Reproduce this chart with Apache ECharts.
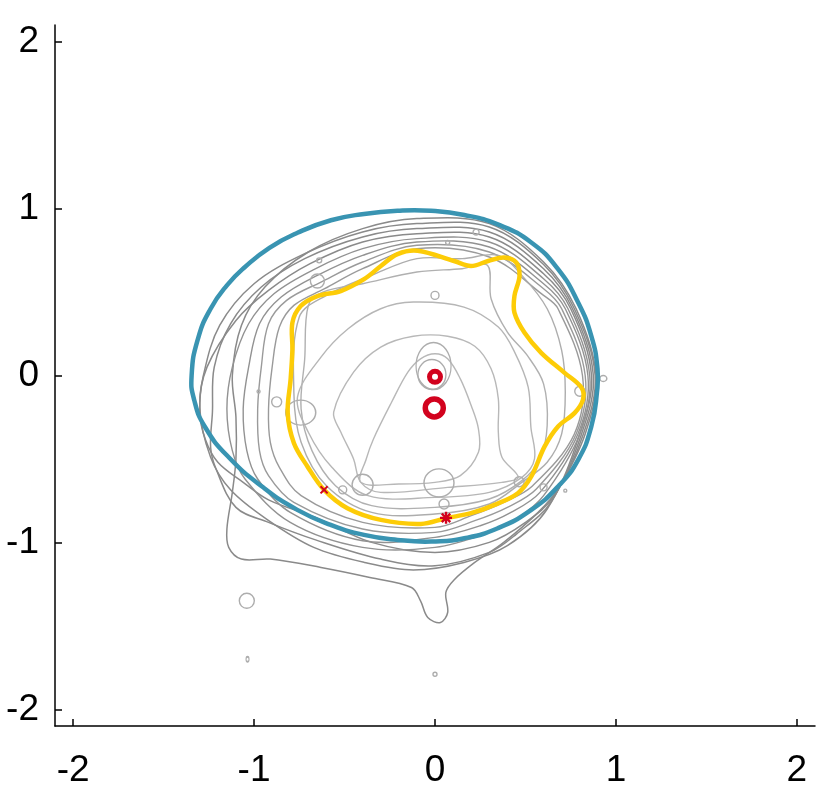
<!DOCTYPE html>
<html>
<head>
<meta charset="utf-8">
<script src="https://cdn.jsdelivr.net/npm/echarts@6/dist/echarts.min.js"></script>
<style>html,body{margin:0;padding:0;background:#fff}#chart{width:830px;height:792px}</style>
</head>
<body>
<div id="chart"></div>
<script>
// ---- tick labels ----
var xTicks = [-2, -1, 0, 1, 2];
var yTicks = [-2, -1, 0, 1, 2];

// ---- highlighted contours (closed curves) ----
var blueContour = [[-1.345,0.0],[-1.31,0.22],[-1.24,0.40],[-1.15,0.54],[-1.05,0.65],[-0.915,0.765],[-0.76,0.855],[-0.575,0.93],[-0.392,0.968],[-0.207,0.987],[-0.022,0.987],[0.162,0.962],[0.347,0.905],[0.532,0.797],[0.680,0.637],[0.791,0.437],[0.864,0.236],[0.898,0.04],[0.895,-0.10],[0.864,-0.305],[0.791,-0.505],[0.680,-0.665],[0.532,-0.805],[0.347,-0.915],[0.162,-0.975],[-0.022,-0.995],[-0.207,-0.985],[-0.392,-0.955],[-0.576,-0.895],[-0.761,-0.805],[-0.95,-0.67],[-1.14,-0.49],[-1.27,-0.31],[-1.33,-0.15]];

var yellowContour = [[-0.096,0.747],[0.105,0.686],[0.199,0.656],[0.294,0.686],[0.382,0.707],[0.449,0.677],[0.467,0.596],[0.439,0.476],[0.439,0.377],[0.495,0.256],[0.587,0.136],[0.716,0.016],[0.809,-0.072],[0.818,-0.144],[0.772,-0.224],[0.680,-0.305],[0.606,-0.425],[0.532,-0.605],[0.458,-0.705],[0.329,-0.775],[0.199,-0.825],[0.061,-0.855],[-0.078,-0.889],[-0.299,-0.865],[-0.484,-0.795],[-0.613,-0.685],[-0.705,-0.545],[-0.780,-0.404],[-0.814,-0.224],[-0.798,-0.024],[-0.788,0.156],[-0.788,0.317],[-0.742,0.416],[-0.650,0.476],[-0.521,0.506],[-0.392,0.577],[-0.299,0.656],[-0.207,0.727]];

// ---- grey contours (outer, darker) ----
var grey1 = [[-0.10,0.94],[0.30,0.91],[0.60,0.68],[0.78,0.40],[0.89,0.00],[0.83,-0.35],[0.68,-0.68],[0.57,-0.82],[0.38,-1.00],[0.216,-1.123],[0.105,-1.225],[0.06,-1.30],[0.07,-1.42],[0.03,-1.48],[-0.04,-1.45],[-0.08,-1.35],[-0.13,-1.27],[-0.36,-1.21],[-0.63,-1.15],[-0.91,-1.10],[-1.07,-1.10],[-1.14,-1.03],[-1.15,-0.92],[-1.12,-0.70],[-1.10,-0.50],[-1.10,-0.25],[-1.12,0.00],[-1.07,0.30],[-0.94,0.53],[-0.70,0.74],[-0.40,0.88]];
var grey2 = [[-0.10,0.91],[0.30,0.89],[0.60,0.665],[0.77,0.40],[0.885,0.00],[0.82,-0.35],[0.66,-0.72],[0.50,-0.88],[0.30,-1.00],[0.00,-1.06],[-0.35,-1.00],[-0.66,-0.85],[-0.92,-0.745],[-1.06,-0.64],[-1.20,-0.52],[-1.27,-0.38],[-1.30,-0.22],[-1.28,0.00],[-1.19,0.30],[-1.00,0.55],[-0.72,0.73],[-0.40,0.86]];
var grey3 = [[-0.10,0.88],[0.30,0.86],[0.60,0.64],[0.76,0.40],[0.875,0.00],[0.81,-0.35],[0.64,-0.76],[0.45,-0.95],[0.30,-1.06],[0.00,-1.14],[-0.30,-1.10],[-0.66,-0.985],[-0.92,-0.88],[-1.10,-0.79],[-1.21,-0.56],[-1.24,-0.43],[-1.23,-0.22],[-1.22,0.05],[-1.13,0.31],[-0.96,0.53],[-0.72,0.70],[-0.40,0.83]];
var grey4 = [[-0.10,0.85],[0.30,0.83],[0.60,0.61],[0.75,0.40],[0.865,0.00],[0.80,-0.35],[0.62,-0.80],[0.40,-1.02],[0.16,-1.12],[-0.12,-1.165],[-0.39,-1.12],[-0.67,-1.03],[-0.925,-0.865],[-1.13,-0.685],[-1.24,-0.49],[-1.30,-0.19],[-1.26,0.05],[-1.10,0.33],[-0.92,0.51],[-0.69,0.67],[-0.40,0.80]];
var grey5 = [[-0.10,0.82],[0.30,0.80],[0.60,0.58],[0.735,0.40],[0.855,0.00],[0.80,-0.35],[0.60,-0.72],[0.45,-0.86],[0.30,-0.94],[0.00,-1.03],[-0.40,-1.03],[-0.80,-0.88],[-1.05,-0.62],[-1.12,-0.45],[-1.15,-0.20],[-1.12,0.05],[-1.03,0.31],[-0.89,0.49],[-0.67,0.635],[-0.40,0.76]];
var grey6 = [[-0.10,0.80],[0.30,0.77],[0.60,0.55],[0.72,0.40],[0.845,0.00],[0.79,-0.35],[0.58,-0.70],[0.42,-0.82],[0.25,-0.90],[0.00,-0.97],[-0.40,-0.99],[-0.80,-0.82],[-0.98,-0.62],[-1.04,-0.45],[-1.06,-0.20],[-1.03,0.05],[-0.97,0.31],[-0.85,0.47],[-0.65,0.60],[-0.40,0.72]];
var grey7 = [[-0.10,0.78],[0.30,0.74],[0.60,0.52],[0.70,0.40],[0.83,0.00],[0.78,-0.35],[0.56,-0.68],[0.40,-0.79],[0.22,-0.87],[0.00,-0.94],[-0.40,-0.92],[-0.78,-0.76],[-0.92,-0.60],[-0.97,-0.45],[-0.98,-0.20],[-0.96,0.05],[-0.92,0.31],[-0.82,0.45],[-0.63,0.56],[-0.40,0.68]];
var grey8 = [[-0.10,0.76],[0.30,0.71],[0.60,0.48],[0.68,0.40],[0.815,0.00],[0.77,-0.35],[0.54,-0.66],[0.38,-0.76],[0.20,-0.84],[0.00,-0.91],[-0.40,-0.88],[-0.74,-0.72],[-0.86,-0.55],[-0.91,-0.40],[-0.92,-0.20],[-0.90,0.05],[-0.86,0.29],[-0.78,0.42],[-0.61,0.52],[-0.40,0.64]];

// ---- grey contours (inner, lighter) ----
var light1 = [[-0.75,0.35],[-0.60,0.48],[-0.35,0.60],[-0.10,0.70],[0.15,0.70],[0.35,0.72],[0.48,0.60],[0.62,0.40],[0.70,0.15],[0.72,-0.10],[0.70,-0.35],[0.62,-0.52],[0.48,-0.64],[0.30,-0.77],[0.00,-0.83],[-0.35,-0.82],[-0.60,-0.66],[-0.74,-0.40],[-0.78,-0.10]];
var light2 = [[-0.70,0.42],[-0.62,0.50],[-0.40,0.55],[-0.10,0.62],[0.15,0.64],[0.29,0.66],[0.31,0.46],[0.40,0.26],[0.51,0.12],[0.60,-0.05],[0.62,-0.30],[0.58,-0.50],[0.48,-0.63],[0.30,-0.74],[0.00,-0.79],[-0.35,-0.78],[-0.55,-0.66],[-0.68,-0.45],[-0.74,-0.20],[-0.72,0.10]];
var light3 = [[-0.76,-0.13],[-0.63,0.11],[-0.48,0.28],[-0.30,0.40],[-0.12,0.44],[0.16,0.41],[0.35,0.29],[0.44,0.14],[0.515,-0.07],[0.53,-0.31],[0.55,-0.50],[0.48,-0.61],[0.30,-0.70],[0.00,-0.73],[-0.37,-0.72],[-0.57,-0.55],[-0.70,-0.34]];
var light4 = [[-0.56,-0.22],[-0.45,0.02],[-0.30,0.17],[-0.12,0.235],[0.07,0.235],[0.22,0.175],[0.31,0.04],[0.35,-0.14],[0.35,-0.34],[0.37,-0.49],[0.46,-0.61],[0.37,-0.64],[0.07,-0.67],[-0.30,-0.70],[-0.41,-0.64],[-0.45,-0.50],[-0.52,-0.34]];
var light5 = [[-0.41,-0.64],[-0.38,-0.50],[-0.34,-0.38],[-0.24,-0.16],[-0.15,0.02],[-0.08,0.10],[0.00,0.13],[0.07,0.10],[0.14,-0.02],[0.20,-0.18],[0.24,-0.32],[0.24,-0.46],[0.14,-0.60],[0.00,-0.64],[-0.20,-0.65]];

// ---- small closed grey loops: [x, y, width px, height px] ----
var smallLoops = [[-0.008,0.057,35,47],[-0.017,0.006,28,30],[0.0,0.48,8,8],[-0.65,0.566,14,14],[-0.64,0.69,5,5],[-0.975,-0.096,3,3],[-0.875,-0.158,10,10],[-0.742,-0.222,30,25],[-0.40,-0.655,21,21],[-0.51,-0.685,8,8],[0.022,-0.643,30,28],[0.05,-0.77,10,10],[0.465,-0.637,10,10],[0.60,-0.67,7,7],[0.80,-0.094,10,10],[0.93,-0.018,7,6],[0.227,0.859,6,6],[0.07,0.797,4,4],[0.72,-0.69,3,3],[-1.04,-1.35,15,15],[-1.036,-1.70,3,5],[0.0,-1.79,4,4]];

// ---- red marks ----
var redRings = [[0.0,-0.008,11,5],[-0.004,-0.194,18,5.5]];
var redStars = [[-0.613,-0.685,10],[0.061,-0.853,12]];

var contours = [
  {pts:grey1, color:'#8a8a8a', w:1.5}, {pts:grey2, color:'#8a8a8a', w:1.5},
  {pts:grey3, color:'#8a8a8a', w:1.5}, {pts:grey4, color:'#8a8a8a', w:1.5},
  {pts:grey5, color:'#929292', w:1.4}, {pts:grey6, color:'#929292', w:1.4},
  {pts:grey7, color:'#9a9a9a', w:1.4}, {pts:grey8, color:'#9a9a9a', w:1.4},
  {pts:light1, color:'#adadad', w:1.4}, {pts:light2, color:'#b0b0b0', w:1.4},
  {pts:light3, color:'#b6b6b6', w:1.4}, {pts:light4, color:'#b8b8b8', w:1.4},
  {pts:light5, color:'#b8b8b8', w:1.4}
];

function closedCurveSeries(list, z, smooth) {
  return {
    type:'custom', coordinateSystem:'cartesian2d', silent:true, z:z, clip:false,
    encode:{x:0, y:1},
    data: list.map(function(c){ return c.pts[0]; }),
    renderItem: function(params, api) {
      var c = list[params.dataIndex];
      return {type:'polygon', shape:{points:c.pts.map(function(p){ return api.coord(p); }), smooth:smooth},
        style:{fill:'none', stroke:c.color, lineWidth:c.w, lineJoin:'round'}};
    }
  };
}

var series = [];
series.push(closedCurveSeries(contours, 2, 0.35));
series.push({type:'scatter', silent:true, z:3,
  data: smallLoops.map(function(p){ return {value:[p[0],p[1]], symbolSize:[p[2],p[3]]}; }),
  symbol:'circle', itemStyle:{color:'rgba(0,0,0,0)', borderColor:'#adadad', borderWidth:1.4, opacity:1}});
series.push(closedCurveSeries([{pts:yellowContour, color:'#fdcc07', w:4.5}], 5, 0.35));
series.push(closedCurveSeries([{pts:blueContour, color:'#3994b2', w:4.5}], 6, 0.5));
series.push({type:'scatter', silent:true, z:8,
  data: redRings.map(function(p){ return {value:[p[0],p[1]], symbolSize:p[2], itemStyle:{borderWidth:p[3]}}; }),
  symbol:'circle', itemStyle:{color:'rgba(0,0,0,0)', borderColor:'#d2021e', opacity:1}});
var plusPath = 'path://M4,0L6,0L6,4L10,4L10,6L6,6L6,10L4,10L4,6L0,6L0,4L4,4Z';
series.push({type:'scatter', silent:true, z:9, symbol:plusPath, symbolRotate:45,
  data: redStars.map(function(p){ return {value:[p[0],p[1]], symbolSize:p[2]}; }),
  itemStyle:{color:'#d2021e', opacity:1}});
series.push({type:'scatter', silent:true, z:9, symbol:plusPath,
  data: redStars.slice(1).map(function(p){ return {value:[p[0],p[1]], symbolSize:p[2]}; }),
  itemStyle:{color:'#d2021e', opacity:1}});

function axis(ticks, margin) {
  return {
    type:'value', min:-2.1, max:2.1,
    splitLine:{show:false},
    axisLine:{show:true, onZero:false, lineStyle:{color:'#000', width:1.5}},
    axisTick:{show:true, inside:true, length:7, customValues:ticks, lineStyle:{color:'#000', width:1.5}},
    axisLabel:{color:'#000', fontSize:37, margin:margin, customValues:ticks,
      fontFamily:'Liberation Sans, Arial, sans-serif'}
  };
}
var option = {
  animation:false,
  backgroundColor:'#fff',
  grid:{left:55, right:15, top:25, bottom:66, containLabel:false},
  xAxis: axis(xTicks, 26),
  yAxis: axis(yTicks, 16),
  series: series
};
var chart = echarts.init(document.getElementById('chart'), null, {renderer:'canvas'});
chart.setOption(option);
</script>
</body>
</html>
